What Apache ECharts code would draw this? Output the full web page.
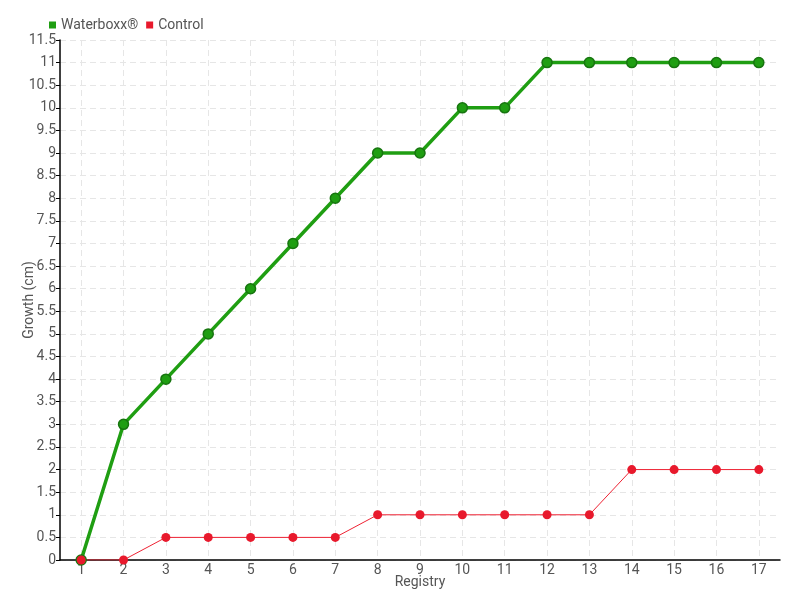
<!DOCTYPE html>
<html><head><meta charset="utf-8">
<script src="https://cdn.jsdelivr.net/npm/echarts@6/dist/echarts.min.js"></script>
<style>html,body{margin:0;padding:0;background:#fff}#c{width:800px;height:600px}</style>
</head><body><div id="c"></div>
<script>
const categories = ['1','2','3','4','5','6','7','8','9','10','11','12','13','14','15','16','17'];
const waterboxx = [0,3,4,5,6,7,8,9,9,10,10,11,11,11,11,11,11];
const control = [0,0,0.5,0.5,0.5,0.5,0.5,1,1,1,1,1,1,2,2,2,2];
const helperSlots = Array.from({length: categories.length * 2 + 1}, () => '');
const font = 'Roboto, "Liberation Sans Narrow", sans-serif';
const chart = echarts.init(document.getElementById('c'));
chart.setOption({
  animation: false,
  textStyle: {fontFamily: font},
  legend: {
    left: 44, top: 13, itemWidth: 7, itemHeight: 7, itemGap: 8, icon: 'rect',
    itemStyle: {borderWidth: 0},
    textStyle: {fontFamily: font, fontSize: 14, color: '#555'},
    data: ['Waterboxx®', 'Control']
  },
  grid: {left: 60, right: 20, top: 40, bottom: 40, containLabel: false, outerBoundsMode: 'none'},
  xAxis: [{
    type: 'category', data: categories, boundaryGap: true,
    name: 'Registry', nameLocation: 'middle', nameGap: 15, nameMoveOverlap: false,
    nameTextStyle: {fontFamily: font, fontSize: 14, color: '#555'},
    axisLine: {lineStyle: {color: '#000', width: 1.5}},
    axisTick: {alignWithLabel: true, length: 4, lineStyle: {color: '#000'}},
    axisLabel: {fontFamily: font, fontSize: 14, color: '#555', margin: 3},
    splitLine: {show: false}
  }, {
    type: 'category', data: helperSlots, boundaryGap: false, position: 'bottom',
    axisLine: {show: false}, axisTick: {show: false}, axisLabel: {show: false},
    splitLine: {show: true, interval: (i) => i % 2 === 1, lineStyle: {color: '#e6e6e6', type: [6, 4]}}
  }],
  yAxis: {
    type: 'value', min: 0, max: 11.5, interval: 0.5,
    name: 'Growth (cm)', nameLocation: 'middle', nameGap: 24, nameMoveOverlap: false,
    nameTextStyle: {fontFamily: font, fontSize: 14, color: '#555'},
    axisLine: {show: true, lineStyle: {color: '#000', width: 1.5}},
    axisTick: {show: true, length: 4, lineStyle: {color: '#000'}},
    axisLabel: {fontFamily: font, fontSize: 14, color: '#555', margin: 4},
    splitLine: {show: true, lineStyle: {color: '#e6e6e6', type: [6, 4]}}
  },
  series: [{
    name: 'Waterboxx®', type: 'line', data: waterboxx,
    symbol: 'circle', symbolSize: 10,
    lineStyle: {color: '#1f9e12', width: 3.5},
    itemStyle: {color: '#1f9e12', borderColor: '#17750f', borderWidth: 1.5},
    color: '#1f9e12'
  }, {
    name: 'Control', type: 'line', data: control,
    symbol: 'circle', symbolSize: 9,
    lineStyle: {color: '#ee2233', width: 1},
    itemStyle: {color: '#e8192c'},
    color: '#e8192c'
  }]
});
</script></body></html>
